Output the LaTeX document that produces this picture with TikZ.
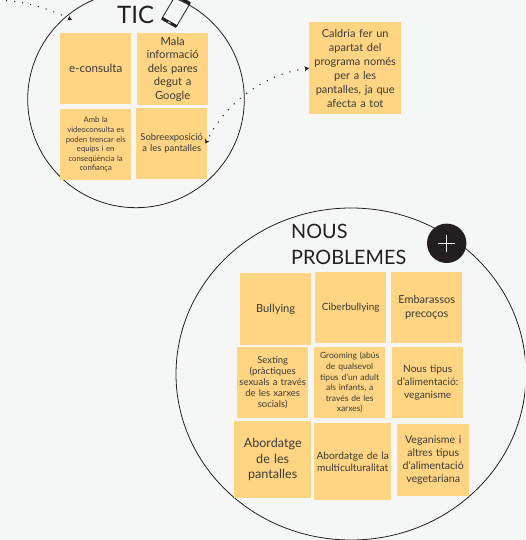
\documentclass[tikz,border=0pt]{standalone}
\usepackage{fontspec}
\setmainfont{Lato}
\usetikzlibrary{arrows.meta,shapes.geometric}
\definecolor{bgc}{HTML}{F5F7F7}
\definecolor{sticky}{HTML}{FFD583}
\definecolor{ink}{HTML}{3A3A3A}
\definecolor{darkc}{HTML}{231F20}
\tikzset{
 sticky/.style={fill=sticky,draw=none,inner sep=0pt,anchor=north west,align=center,text=ink},
 ring/.style={draw=darkc,line width=0.8pt},
 link/.style={draw=darkc,line width=1pt,dash pattern=on 1.1pt off 7pt,{Stealth[length=4.5pt,width=5pt]}-{Stealth[length=4.5pt,width=5pt]}},
 linkb/.style={draw=darkc,line width=1pt,dash pattern=on 1.1pt off 7pt,-{Stealth[length=4.5pt,width=5pt]}},
 title/.style={text=darkc,inner sep=0pt,anchor=base west,align=left}
}
\newcommand{\note}[8]{\node[sticky,minimum width=#3pt,minimum height=#4pt,text width=#5pt,font=\fontsize{#6pt}{#7pt}\selectfont] (#8) at (#1pt,-#2pt)}
\begin{document}
\begin{tikzpicture}[x=1pt,y=1pt]
\useasboundingbox (0,0) rectangle (525,-540);
\fill[bgc] (0,0) rectangle (525,-540);
\begin{scope}
\clip (0,0) rectangle (525,-540);
\node[ring,circle,minimum size=216.6pt,inner sep=0pt] (tic) at (136,-99.4) {};
\node[ring,ellipse,minimum width=350pt,minimum height=332pt,inner sep=0pt] (nous) at (351,-374) {};
\coordinate (off) at (-2,0);
\draw[darkc,line width=0.8pt] (162,-18.3) -- (176.5,-26.5) -- (190,-3.5) -- (175.5,4.5) -- cycle;
\draw[darkc,line width=3pt] (162,-18.3) -- (176.5,-26.5);
\draw[darkc,line width=3pt] (175.5,4.5) -- (190,-3.5);
\draw[bgc,line width=0.8pt] (168,-21.8) -- (170.5,-23.2);
\end{scope}
\note{60}{33}{71}{71}{69}{11.6}{13}{ec} {e-consulta};
\note{137}{33}{71}{72}{69}{11.2}{13.4}{mala} {Mala\\informació\\dels pares\\degut a\\Google};
\note{60}{109}{71}{71}{69}{7.7}{9.6}{amb} {Amb la\\videoconsulta es\\poden trencar els\\equips i en\\conseqüència la\\confiança};
\note{136}{108}{71}{71}{71}{9.4}{11}{sob} {Sobreexposició\\a les pantalles};
\note{309}{22}{92}{92}{90}{11}{14}{cal} {Caldria fer un\\apartat del\\programa només\\per a les\\pantalles, ja que\\afecta a tot};
\note{240}{273}{71}{72}{69}{11.2}{13}{bul} {Bullying};
\note{315}{272}{71}{71}{69}{10}{12}{cib} {Ciberbullying};
\note{391}{272}{71}{71}{69}{11}{14.4}{emb} {Embarassos\\precoços};
\note{237}{347}{71}{71}{69}{9.5}{11.2}{sex} {Sexting\\(pràctiques\\sexuals a través\\de les xarxes\\socials)};
\note{314}{347}{71}{71}{69}{8.5}{10.6}{gro} {Grooming (abús\\de qualsevol\\tipus d'un adult\\als infants, a\\través de les\\xarxes)};
\note{392}{347}{71}{71}{71}{10.2}{12.6}{nou} {Nous tipus\\d'alimentació:\\veganisme};
\note{234}{421}{77}{77}{75}{12.6}{15.6}{abp} {Abordatge\\de les\\pantalles};
\note{314}{423}{77}{77}{77}{10.2}{12}{abm} {Abordatge de la\\multiculturalitat};
\note{397}{424}{72}{72}{72}{10.6}{13}{veg} {Veganisme i\\altres tipus\\d'alimentació\\vegetariana};
\node[title,font=\fontsize{24}{24}\selectfont] (t1) at (117,-23.5) {TIC};
\node[title,font=\fontsize{19.8}{26}\selectfont] (t2) at (291,-238.5) {NOUS};
\node[title,font=\fontsize{19.8}{26}\selectfont] (t3) at (291,-264.5) {PROBLEMES};
\node[circle,fill=darkc,minimum size=39.4pt,inner sep=0pt] (plus) at (446.7,-243.3) {};
\draw[white,line width=1.2pt] ([xshift=-8.5pt]plus.center) -- ([xshift=8.5pt]plus.center);
\draw[white,line width=1.2pt] ([yshift=-8.5pt]plus.center) -- ([yshift=8.5pt]plus.center);
\coordinate (calin) at (cal.west);
\coordinate (sobin) at ([xshift=-2pt]sob.east);
\draw[link] (calin) .. controls (270,-73) and (228,-98) .. (sobin);
\draw[linkb] (off) .. controls (25,-1) and (50,-9) .. (72,-20);
\end{tikzpicture}
\end{document}
